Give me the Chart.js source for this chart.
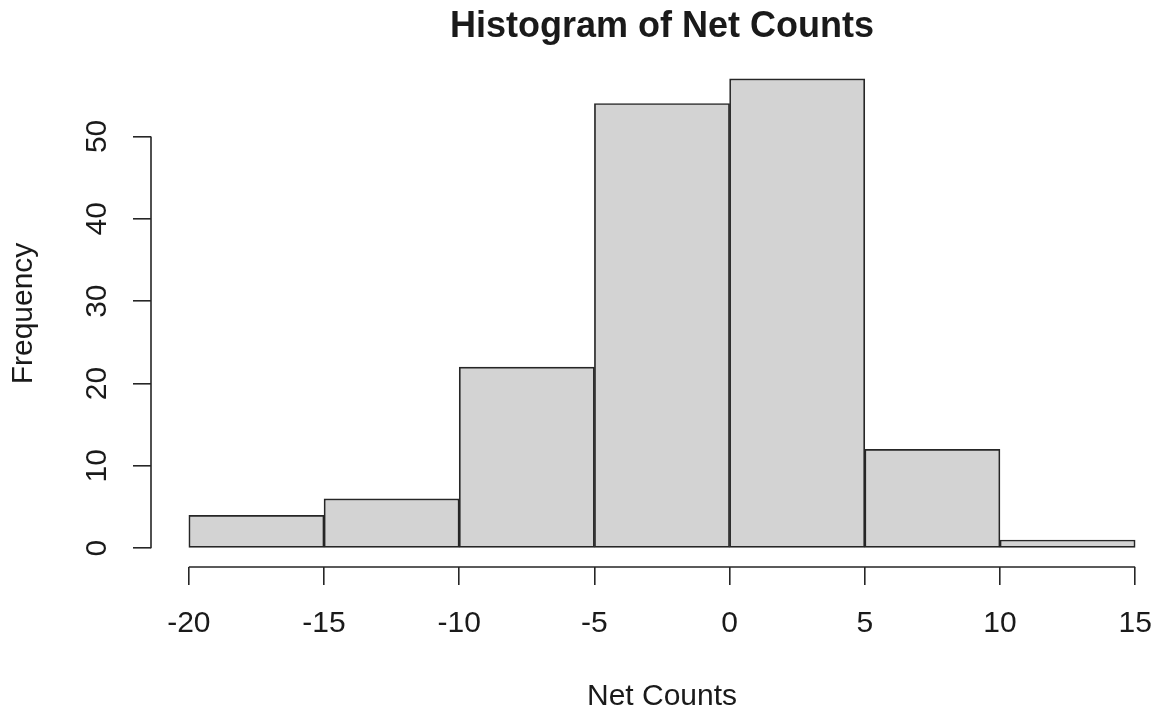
<!DOCTYPE html>
<html>
<head>
<meta charset="utf-8">
<script src="https://cdn.jsdelivr.net/npm/chart.js@4/dist/chart.umd.min.js"></script>
<style>
    html, body { margin: 0; padding: 0; background: white; overflow: hidden; }
    #wrap { width: 1157px; height: 713px; overflow: hidden; }
</style>
</head>
<body>
<div id="wrap">
    <canvas id="myChart" width="1190" height="713"></canvas>
</div>
<script>
// histogram breaks and counts
var breaks = [-20, -15, -10, -5, 0, 5, 10, 15];
var counts = [4, 6, 22, 54, 57, 12, 1];

// tick labels of both axes
var xTicks = [-20, -15, -10, -5, 0, 5, 10, 15];
var yTicks = [0, 10, 20, 30, 40, 50];

var lineColor = "#262626";
var textColor = "#1a1a1a";
var fontName = "'Liberation Sans', Arial, Helvetica, sans-serif";

// one bar per bin, sitting on the middle of the bin
var points = [];
for (var i = 0; i < counts.length; i += 1) {
    points.push({ x: (breaks[i] + breaks[i + 1]) / 2, y: counts[i] });
}

// R draws the axis line only from the first to the last tick
var axisLines = {
    id: "axisLines",
    afterDatasetsDraw(chart) {
        var ctx = chart.ctx;
        var xs = chart.scales.x;
        var ys = chart.scales.y;
        var area = chart.chartArea;
        ctx.save();
        ctx.strokeStyle = lineColor;
        ctx.lineWidth = 1.6;
        ctx.beginPath();
        ctx.moveTo(xs.getPixelForValue(xTicks[0]), area.bottom);
        ctx.lineTo(xs.getPixelForValue(xTicks[xTicks.length - 1]), area.bottom);
        ctx.moveTo(area.left, ys.getPixelForValue(yTicks[0]));
        ctx.lineTo(area.left, ys.getPixelForValue(yTicks[yTicks.length - 1]));
        ctx.stroke();
        ctx.restore();
    }
};

new Chart("myChart", {
    type: "bar",
    data: {
        datasets: [{
            data: points,
            backgroundColor: "#d3d3d3",
            borderColor: lineColor,
            borderWidth: 1.7,
            borderSkipped: false,
            barPercentage: 1,
            categoryPercentage: 1
        }]
    },
    options: {
        responsive: false,
        animation: false,
        layout: { padding: { left: 0, top: 0, right: 17, bottom: 0 } },
        plugins: {
            legend: { display: false },
            tooltip: { enabled: false },
            title: {
                display: true,
                text: "Histogram of Net Counts",
                fullSize: false,
                color: textColor,
                font: { family: fontName, size: 36, weight: "bold", lineHeight: 1.2 },
                padding: { top: 5, bottom: 11.8 }
            }
        },
        scales: {
            x: {
                type: "linear",
                min: -21.4,
                max: 16.4,
                offset: false,
                afterBuildTicks(scale) {
                    scale.ticks = xTicks.map(v => ({ value: v }));
                },
                afterFit(scale) {
                    scale.height = 146;
                },
                border: { display: false },
                grid: {
                    offset: false,
                    drawOnChartArea: false,
                    drawTicks: true,
                    tickLength: 18,
                    color: lineColor,
                    lineWidth: 1.6
                },
                ticks: {
                    color: textColor,
                    font: { family: fontName, size: 30 },
                    padding: 21,
                    maxRotation: 0,
                    autoSkip: false,
                    callback: v => String(v)
                },
                title: {
                    display: true,
                    text: "Net Counts",
                    color: textColor,
                    font: { family: fontName, size: 30 },
                    padding: { top: 0, bottom: -2 }
                }
            },
            y: {
                min: -2.28,
                max: 59.28,
                afterBuildTicks(scale) {
                    scale.ticks = yTicks.map(v => ({ value: v }));
                },
                afterFit(scale) {
                    scale.width = 151;
                },
                border: { display: false },
                grid: {
                    drawOnChartArea: false,
                    drawTicks: true,
                    tickLength: 18,
                    color: lineColor,
                    lineWidth: 1.6
                },
                ticks: {
                    color: textColor,
                    font: { family: fontName, size: 30 },
                    padding: 19,
                    minRotation: 90,
                    maxRotation: 90,
                    crossAlign: "center",
                    autoSkip: false,
                    callback: v => String(v)
                },
                title: {
                    display: true,
                    text: "Frequency",
                    color: textColor,
                    font: { family: fontName, size: 30 },
                    padding: { top: 6, bottom: 0 }
                }
            }
        }
    },
    plugins: [axisLines]
});
</script>
</body>
</html>
